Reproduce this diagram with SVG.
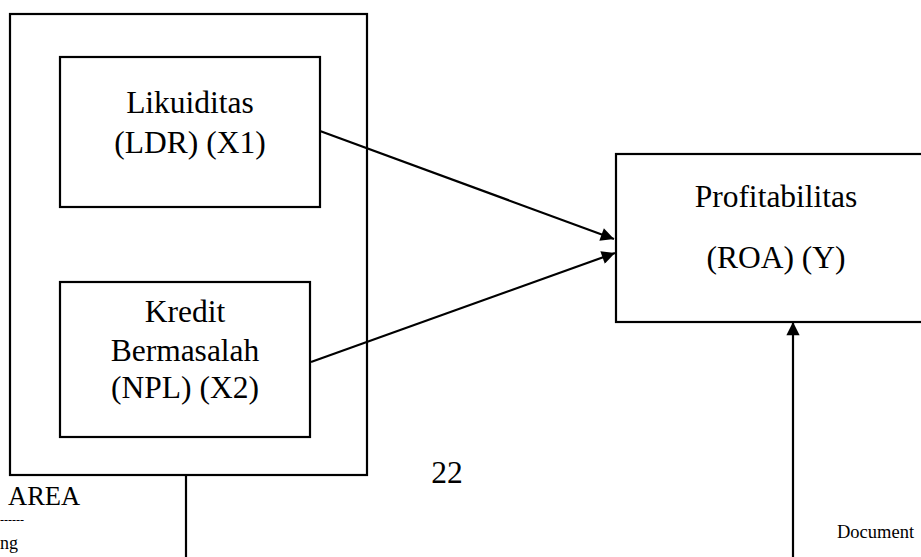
<svg xmlns="http://www.w3.org/2000/svg" width="921" height="557" viewBox="0 0 921 557">
<defs>
<style>
.box{fill:#fff;stroke:#000;stroke-width:2.2}
.t{font-family:'Liberation Serif','Times New Roman',serif;font-size:31.5px;fill:#000;text-anchor:middle}
.s{font-family:'Liberation Serif','Times New Roman',serif;fill:#000}
.c{stroke:#000;stroke-width:2.2;fill:none}
</style>
<marker id="ah" viewBox="0 0 10 10" refX="10" refY="5" markerWidth="7.5" markerHeight="6" orient="auto" markerUnits="strokeWidth">
<path d="M0,0 L10,5 L0,10 z" fill="#000"/>
</marker>
</defs>
<rect width="921" height="557" fill="#fff"/>
<g id="outer">
<rect class="box" x="10" y="14" width="357" height="461" stroke-width="2.5"/>
</g>
<g id="likuiditas">
<rect class="box" x="60" y="57" width="260" height="150"/>
<text class="t" x="190" y="113">Likuiditas</text>
<text class="t" x="190" y="153">(LDR) (X1)</text>
</g>
<g id="kredit">
<rect class="box" x="60" y="282" width="250" height="155"/>
<text class="t" x="185" y="322">Kredit</text>
<text class="t" x="185" y="361">Bermasalah</text>
<text class="t" x="185" y="398">(NPL) (X2)</text>
</g>
<g id="profitabilitas">
<rect class="box" x="616" y="154" width="320" height="168"/>
<text class="t" x="776" y="207">Profitabilitas</text>
<text class="t" x="776" y="268">(ROA) (Y)</text>
</g>
<g id="connectors">
<line class="c" x1="320" y1="131" x2="614" y2="239" marker-end="url(#ah)"/>
<line class="c" x1="311" y1="362" x2="615" y2="253" marker-end="url(#ah)"/>
<line class="c" x1="186" y1="475" x2="186" y2="557"/>
<line class="c" x1="793" y1="557" x2="793" y2="322" marker-end="url(#ah)"/>
</g>
<g id="labels">
<text class="t" x="447" y="483">22</text>
<text class="s" x="8" y="505" font-size="26.5">AREA</text>
<text class="s" x="0" y="524" font-size="12">------</text>
<text class="s" x="0" y="549" font-size="18">ng</text>
<text class="s" x="837" y="538" font-size="18.5">Document</text>
</g>
</svg>
